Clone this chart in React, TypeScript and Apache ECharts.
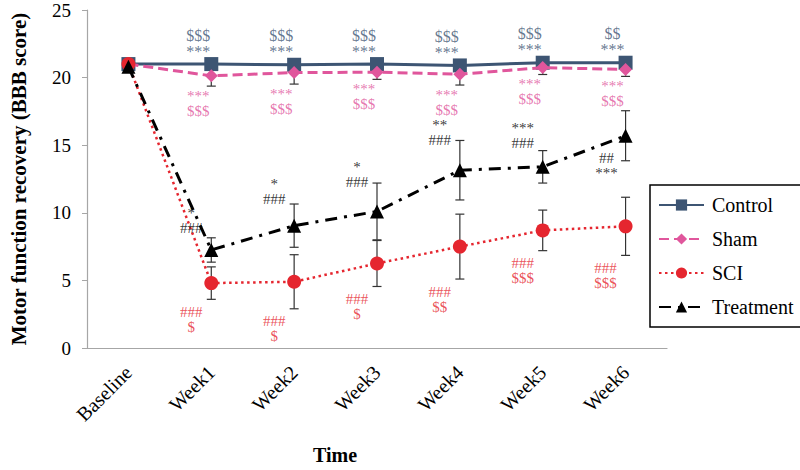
import React, { useEffect, useRef } from "react";
import * as echarts from "echarts";

const categories = ["Baseline", "Week1", "Week2", "Week3", "Week4", "Week5", "Week6"];
const yTicks = [0, 5, 10, 15, 20, 25];

const controlValues = [21, 21, 20.95, 21, 20.9, 21.1, 21.1];
const shamValues = [21, 20.13, 20.37, 20.4, 20.25, 20.74, 20.6];
const shamErrors = [0, 0.76, 0.85, 0.53, 0.8, 0.51, 0.51];
const sciValues = [21, 4.8, 4.9, 6.25, 7.5, 8.7, 9.0];
const sciErrors = [0, 1.2, 2.0, 1.7, 2.4, 1.5, 2.15];
const treatValues = [20.8, 7.25, 9.05, 10.1, 13.15, 13.4, 15.7];
const treatErrors = [0, 0.9, 1.6, 2.1, 2.2, 1.2, 1.85];

// significance marks
const controlDollars = ["", "$$$", "$$$", "$$$", "$$$", "$$$", "$$"];
const controlStars = ["", "***", "***", "***", "***", "***", "***"];
const shamStars = ["", "***", "***", "***", "***", "***", "***"];
const shamDollars = ["", "$$$", "$$$", "$$$", "$$$", "$$$", "$$$"];
const treatStars = ["", "*", "*", "*", "**", "***", "***"];
const treatHashes = ["", "###", "###", "###", "###", "###", "##"];
const sciHashes = ["", "###", "###", "###", "###", "###", "###"];
const sciDollars = ["", "$", "$", "$", "$$", "$$$", "$$$"];

const FONT = "Liberation Serif";
const C_CONTROL = "#3D5573";
const C_SHAM = "#E0569C";
const C_SCI = "#E5262F";
const C_TREAT = "#000000";

export default function App() {
  const ref = useRef<HTMLDivElement>(null);

  useEffect(() => {
    if (!ref.current) return;
    const chart = echarts.init(ref.current, undefined, { renderer: "svg" });

    const errorSeries = (name: string, values: number[], errors: number[], z: number) => ({
      type: "custom",
      name,
      z,
      silent: true,
      data: values.map((v, i) => [i, v, errors[i]]),
      renderItem: (params: any, api: any) => {
        const x = api.value(0);
        const v = api.value(1);
        const e = api.value(2);
        if (!e) return null;
        const top = api.coord([x, v + e]);
        const bot = api.coord([x, v - e]);
        const w = 4.5;
        const style = { stroke: "#333333", lineWidth: 1.2 };
        return {
          type: "group",
          children: [
            { type: "line", shape: { x1: top[0], y1: top[1], x2: bot[0], y2: bot[1] }, style },
            { type: "line", shape: { x1: top[0] - w, y1: top[1], x2: top[0] + w, y2: top[1] }, style },
            { type: "line", shape: { x1: bot[0] - w, y1: bot[1], x2: bot[0] + w, y2: bot[1] }, style },
          ],
        };
      },
    });

    const annotSeries = (items: any[], color: string, size: number) => ({
      type: "scatter",
      symbolSize: 0,
      silent: true,
      z: 10,
      data: items,
      label: {
        show: true,
        fontFamily: FONT,
        fontSize: size,
        lineHeight: size,
        color,
        align: "center",
      },
    });

    const idx = categories.map((_, i) => i);
    const controlAnnot = idx
      .filter((i) => controlDollars[i])
      .map((i) => ({
        value: [i, controlValues[i]],
        label: {
          position: "top",
          distance: 5,
          offset: [-13, 0],
          formatter: `${controlDollars[i]}\n${controlStars[i]}`,
        },
      }));
    const shamAnnot = idx
      .filter((i) => shamStars[i])
      .map((i) => ({
        value: [i, shamValues[i] - shamErrors[i]],
        label: {
          position: "bottom",
          distance: 2,
          offset: [-13, 0],
          formatter: `${shamStars[i]}\n${shamDollars[i]}`,
        },
      }));
    const last = categories.length - 1;
    const treatAnnot = idx
      .filter((i) => treatStars[i])
      .map((i) =>
        i === last
          ? {
              value: [i, treatValues[i]],
              label: {
                position: "bottom",
                distance: 15,
                offset: [-19, 0],
                formatter: `${treatHashes[i]}\n${treatStars[i]}`,
              },
            }
          : {
              value: [i, treatValues[i] + treatErrors[i] / 2],
              label: {
                position: "top",
                distance: 8,
                offset: [-20, 0],
                formatter: `${treatStars[i]}\n${treatHashes[i]}`,
              },
            }
      );
    const sciAnnot = idx
      .filter((i) => sciHashes[i])
      .map((i) => ({
        value: [i, sciValues[i] - sciErrors[i]],
        label: {
          position: "bottom",
          distance: 5,
          offset: [-20, 0],
          formatter: `${sciHashes[i]}\n${sciDollars[i]}`,
        },
      }));

    chart.setOption({
      animation: false,
      backgroundColor: "#ffffff",
      textStyle: { fontFamily: FONT },
      grid: { left: 83, right: 133, top: 10, bottom: 118 },
      legend: {
        orient: "vertical",
        left: 650,
        top: 185,
        data: ["Control", "Sham", "SCI", "Treatment"],
        itemWidth: 45,
        itemHeight: 14,
        itemGap: 14,
        padding: [10, 10, 10, 8],
        borderColor: "#000",
        borderWidth: 1.5,
        textStyle: { fontFamily: FONT, fontSize: 20, color: "#000", padding: [0, 0, 0, 3] },
      },
      xAxis: {
        type: "category",
        data: categories,
        name: "Time",
        nameLocation: "middle",
        nameGap: 97,
        nameTextStyle: {
          fontFamily: FONT,
          fontSize: 20,
          fontWeight: "bold",
          color: "#000",
          padding: [0, 84, 0, 0],
        },
        axisLine: { lineStyle: { color: "#A6A6A6", width: 1.2 } },
        axisTick: { show: false },
        axisLabel: {
          rotate: 45,
          margin: 21,
          fontFamily: FONT,
          fontSize: 20,
          color: "#000",
        },
        splitLine: { show: false },
      },
      yAxis: {
        type: "value",
        min: yTicks[0],
        max: yTicks[yTicks.length - 1],
        interval: yTicks[1] - yTicks[0],
        name: "Motor function recovery (BBB score)",
        nameLocation: "middle",
        nameGap: 58,
        nameTextStyle: { fontFamily: FONT, fontSize: 21, fontWeight: "bold", color: "#000" },
        axisLine: { show: true, lineStyle: { color: "#A6A6A6", width: 1.2 } },
        axisTick: { show: true, length: 5, lineStyle: { color: "#A6A6A6" } },
        axisLabel: { fontFamily: FONT, fontSize: 19, color: "#000", margin: 16 },
        splitLine: { show: false },
      },
      series: [
        errorSeries("shamErr", shamValues, shamErrors, 1),
        errorSeries("sciErr", sciValues, sciErrors, 1),
        errorSeries("treatErr", treatValues, treatErrors, 1),
        {
          type: "line",
          name: "Control",
          data: controlValues,
          z: 3,
          symbol: "rect",
          symbolSize: 14,
          color: C_CONTROL,
          lineStyle: { color: C_CONTROL, width: 3, type: "solid" },
          itemStyle: { color: C_CONTROL },
        },
        {
          type: "line",
          name: "Sham",
          data: shamValues,
          z: 4,
          symbol: "diamond",
          symbolSize: 13,
          color: C_SHAM,
          lineStyle: { color: C_SHAM, width: 3, type: [10, 5] },
          itemStyle: { color: C_SHAM },
        },
        {
          type: "line",
          name: "SCI",
          data: sciValues,
          z: 5,
          symbol: "circle",
          symbolSize: 14,
          color: C_SCI,
          lineStyle: { color: C_SCI, width: 2.5, type: [2.5, 3.5] },
          itemStyle: { color: C_SCI },
        },
        {
          type: "line",
          name: "Treatment",
          data: treatValues,
          z: 6,
          symbol: "triangle",
          symbolSize: 14,
          color: C_TREAT,
          lineStyle: { color: C_TREAT, width: 3, type: [12, 7, 3, 7] },
          itemStyle: { color: C_TREAT },
        },
        annotSeries(controlAnnot, C_CONTROL, 16),
        annotSeries(shamAnnot, C_SHAM, 15),
        annotSeries(treatAnnot, "#000", 15),
        annotSeries(sciAnnot, C_SCI, 15),
      ],
    });

    return () => chart.dispose();
  }, []);

  return (
    <div
      ref={ref}
      style={{ position: "absolute", left: 0, top: 0, width: 800, height: 470, background: "#fff" }}
    />
  );
}
